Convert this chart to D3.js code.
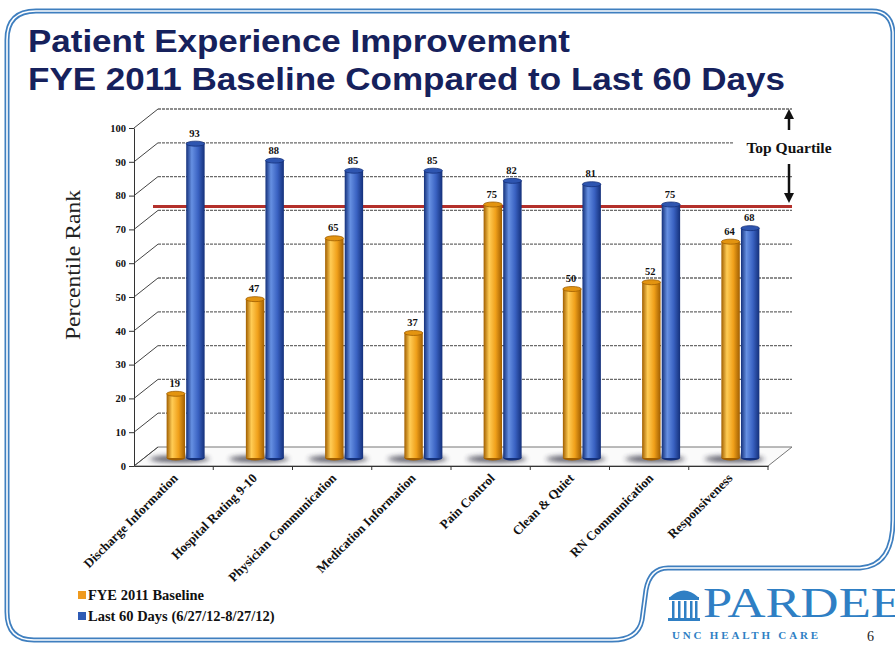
<!DOCTYPE html>
<html>
<head>
<meta charset="utf-8">
<script src="https://cdn.jsdelivr.net/npm/d3@7"></script>
<style>
  body { margin: 0; background: #fff; }
  svg { display: block; }
</style>
</head>
<body>
<div id="chart"></div>
<script>
//chart data
var categories = ["Discharge Information", "Hospital Rating 9-10", "Physician Communication",
  "Medication Information", "Pain Control", "Clean & Quiet", "RN Communication", "Responsiveness"];
var baseline = [19, 47, 65, 37, 75, 50, 52, 64];
var last60 = [93, 88, 85, 85, 82, 81, 75, 68];
var seriesNames = ["FYE 2011 Baseline", "Last 60 Days (6/27/12-8/27/12)"];
var yTicks = [0, 10, 20, 30, 40, 50, 60, 70, 80, 90, 100];
var topQuartile = 75;

var svgWidth = 895;
var svgHeight = 646;

//3d depth offsets (back wall and the plane the bars stand in)
var back = {dx: 24, dy: -19};
var mid = {dx: 12, dy: -8};

var plot = {left: 134, right: 768, top: 128, bottom: 466};

var svg = d3.select("#chart")
  .append("svg")
  .attr("width", svgWidth)
  .attr("height", svgHeight);

var defs = svg.append("defs");

//frame round the slide (double blue line)
var framePath = "M 7 40 Q 7 11 36 11 L 872 11 Q 891 11 893 32 L 893 520 " +
  "Q 893 566 860 568 L 668 568 Q 650 568 646 590 L 642 620 Q 638 640 612 640 " +
  "L 34 640 Q 7 640 7 612 Z";
svg.append("path").attr("d", framePath)
  .attr("fill", "none").attr("stroke", "#3f7fbf").attr("stroke-width", 5);
svg.append("path").attr("d", framePath)
  .attr("fill", "none").attr("stroke", "#fff").attr("stroke-width", 1.6);

//title
svg.append("text")
  .attr("x", 28).attr("y", 52)
  .attr("textLength", 542).attr("lengthAdjust", "spacingAndGlyphs")
  .style("font-family", "Liberation Sans, Arial, sans-serif")
  .style("font-weight", "bold").style("font-size", "31px")
  .attr("fill", "#16215c")
  .text("Patient Experience Improvement");
svg.append("text")
  .attr("x", 28).attr("y", 90)
  .attr("textLength", 757).attr("lengthAdjust", "spacingAndGlyphs")
  .style("font-family", "Liberation Sans, Arial, sans-serif")
  .style("font-weight", "bold").style("font-size", "31px")
  .attr("fill", "#16215c")
  .text("FYE 2011 Baseline Compared to Last 60 Days");

//scales
var yScale = d3.scaleLinear().domain([0, 100]).range([plot.bottom, plot.top]);
var xScale = d3.scaleBand().domain(categories).range([plot.left, plot.right]);
var xSeries = d3.scaleBand().domain([0, 1]).range([-19, 19]).paddingInner(0.06);

var chartGroup = svg.append("g");
var serif = "Liberation Serif, Times New Roman, serif";

//floor
chartGroup.append("path")
  .attr("d", `M ${plot.left} ${plot.bottom} L ${plot.right} ${plot.bottom} L ${plot.right + back.dx} ${plot.bottom + back.dy} L ${plot.left + back.dx} ${plot.bottom + back.dy} Z`)
  .attr("fill", "#fafafa").attr("stroke", "#777").attr("stroke-width", 1);

//gridlines on back wall + side wall diagonals
yTicks.forEach(function(t) {
  if (t > 0) {
    chartGroup.append("line")
      .attr("x1", plot.left + back.dx).attr("x2", plot.right + back.dx)
      .attr("y1", yScale(t) + back.dy).attr("y2", yScale(t) + back.dy)
      .attr("stroke", "#6a6a6a").attr("stroke-width", 1.3)
      .attr("stroke-dasharray", "3,1");
  }
  chartGroup.append("line")
    .attr("x1", plot.left).attr("x2", plot.left + back.dx)
    .attr("y1", yScale(t)).attr("y2", yScale(t) + back.dy)
    .attr("stroke", "#444").attr("stroke-width", 1);
});

//y axis
var leftAxis = d3.axisLeft(yScale).tickValues(yTicks).tickSize(5).tickSizeOuter(0);
var yAxisG = chartGroup.append("g")
  .attr("transform", `translate(${plot.left}, 0)`)
  .call(leftAxis);
yAxisG.select(".domain").attr("stroke", "#333");
yAxisG.selectAll(".tick line").attr("stroke", "#333");
yAxisG.selectAll("text")
  .style("font-family", serif).style("font-weight", "bold").style("font-size", "10.5px")
  .attr("fill", "#111");

//x axis (front edge of floor)
var bottomAxis = d3.axisBottom(xScale).tickSize(0).tickFormat("");
var xAxisG = chartGroup.append("g")
  .attr("transform", `translate(0, ${plot.bottom})`)
  .call(bottomAxis);
xAxisG.select(".domain").attr("stroke", "#333");
categories.forEach(function(c) {
  var bx = xScale(c) + xScale.bandwidth();
  chartGroup.append("line")
    .attr("x1", bx).attr("x2", bx)
    .attr("y1", plot.bottom).attr("y2", plot.bottom + 4)
    .attr("stroke", "#333");
});

//category labels
chartGroup.selectAll(".xlabel")
  .data(categories)
  .enter()
  .append("text")
  .attr("class", "xlabel")
  .attr("transform", d => `translate(${xScale(d) + xScale.bandwidth() / 2 + 5}, ${plot.bottom + 13}) rotate(-45)`)
  .attr("text-anchor", "end")
  .style("font-family", serif).style("font-weight", "bold").style("font-size", "13px")
  .attr("fill", "#111")
  .text(d => d);

//cylinder gradients
var palette = [
  {id: "gOrange", dark: "#a05e00", main: "#f0a01a", light: "#ffcc55", top: "#e39410"},
  {id: "gBlue", dark: "#14307a", main: "#3a62c2", light: "#6690e2", top: "#2e55b0"}
];
palette.forEach(function(p) {
  var g = defs.append("linearGradient").attr("id", p.id)
    .attr("x1", "0%").attr("x2", "100%").attr("y1", "0%").attr("y2", "0%");
  g.append("stop").attr("offset", "0%").attr("stop-color", p.dark);
  g.append("stop").attr("offset", "30%").attr("stop-color", p.light);
  g.append("stop").attr("offset", "65%").attr("stop-color", p.main);
  g.append("stop").attr("offset", "100%").attr("stop-color", p.dark);
});

var blur = defs.append("filter").attr("id", "shadowBlur")
  .attr("x", "-50%").attr("y", "-200%").attr("width", "200%").attr("height", "500%");
blur.append("feGaussianBlur").attr("stdDeviation", 2.5);

//shadows on the floor
chartGroup.selectAll(".shadow")
  .data(categories)
  .enter()
  .append("ellipse")
  .attr("cx", d => xScale(d) + xScale.bandwidth() / 2 + mid.dx - 6)
  .attr("cy", plot.bottom + mid.dy + 1)
  .attr("rx", 30).attr("ry", 3.5)
  .attr("fill", "#2a2a3a").attr("opacity", 0.75)
  .attr("filter", "url(#shadowBlur)");

//red top quartile line
chartGroup.append("line")
  .attr("x1", plot.left + 19).attr("x2", plot.right + back.dx)
  .attr("y1", yScale(topQuartile) + mid.dy + 2).attr("y2", yScale(topQuartile) + mid.dy + 2)
  .attr("stroke", "#b3302b").attr("stroke-width", 3);

//bars
var seriesData = [baseline, last60];
seriesData.forEach(function(values, si) {
  var p = palette[si];
  var bw = xSeries.bandwidth();
  var bars = chartGroup.selectAll(".bar" + si)
    .data(values.map((v, i) => ({cat: categories[i], value: v})))
    .enter()
    .append("g")
    .attr("class", "bar" + si);

  var bx = d => xScale(d.cat) + xScale.bandwidth() / 2 + xSeries(si) + mid.dx;
  var by = d => yScale(d.value) + mid.dy;
  var base = plot.bottom + mid.dy;

  bars.append("ellipse")
    .attr("cx", d => bx(d) + bw / 2).attr("cy", base)
    .attr("rx", bw / 2).attr("ry", 2.5)
    .attr("fill", p.dark);
  bars.append("rect")
    .attr("x", d => bx(d)).attr("y", d => by(d))
    .attr("width", bw).attr("height", d => base - by(d))
    .attr("fill", `url(#${p.id})`);
  bars.append("ellipse")
    .attr("cx", d => bx(d) + bw / 2).attr("cy", d => by(d))
    .attr("rx", bw / 2).attr("ry", 2.5)
    .attr("fill", p.top).attr("stroke", p.dark).attr("stroke-width", 0.8);

  //value labels
  bars.append("text")
    .attr("x", d => bx(d) + bw / 2 - 1)
    .attr("y", d => by(d) - 7)
    .attr("text-anchor", "middle")
    .style("font-family", serif).style("font-weight", "bold").style("font-size", "10.5px")
    .attr("fill", "#111")
    .text(d => d.value);
});

//top quartile marker
var qx = plot.right + back.dx - 3;
svg.append("rect")
  .attr("x", 734).attr("y", 136).attr("width", 110).attr("height", 24)
  .attr("fill", "#fff");
svg.append("text")
  .attr("x", qx).attr("y", 153)
  .attr("text-anchor", "middle")
  .style("font-family", serif).style("font-weight", "bold").style("font-size", "15.5px")
  .attr("fill", "#111")
  .text("Top Quartile");
defs.append("marker").attr("id", "arrowHead")
  .attr("viewBox", "0 0 10 10").attr("refX", 5).attr("refY", 5)
  .attr("markerWidth", 4).attr("markerHeight", 4).attr("orient", "auto-start-reverse")
  .append("path").attr("d", "M 0 0 L 10 5 L 0 10 Z").attr("fill", "#111");
svg.append("line")
  .attr("x1", qx).attr("x2", qx).attr("y1", 130).attr("y2", 114)
  .attr("stroke", "#111").attr("stroke-width", 2.5).attr("marker-end", "url(#arrowHead)");
svg.append("line")
  .attr("x1", qx).attr("x2", qx).attr("y1", 164).attr("y2", 198)
  .attr("stroke", "#111").attr("stroke-width", 2.5).attr("marker-end", "url(#arrowHead)");

//y axis title
svg.append("text")
  .attr("transform", "translate(80, 265) rotate(-90)")
  .attr("text-anchor", "middle")
  .attr("textLength", 150).attr("lengthAdjust", "spacingAndGlyphs")
  .style("font-family", serif).style("font-size", "21px")
  .attr("fill", "#222")
  .text("Percentile Rank");

//legend
var legendColors = ["#ef9a1e", "#2f5bb5"];
var legend = svg.selectAll(".legend")
  .data(seriesNames)
  .enter()
  .append("g")
  .attr("class", "legend")
  .attr("transform", (d, i) => `translate(78, ${591 + i * 21})`);
legend.append("rect")
  .attr("width", 8).attr("height", 8)
  .attr("fill", (d, i) => legendColors[i]);
legend.append("text")
  .attr("x", 10).attr("y", 8.5)
  .style("font-family", serif).style("font-weight", "bold").style("font-size", "14.5px")
  .attr("fill", "#111")
  .text(d => d);

//logo
var logoBlue = "#2f7fc4";
var logo = svg.append("g").attr("fill", logoBlue);
logo.append("path").attr("d", "M 670 597 Q 684 584 698 597 Z");
logo.append("rect").attr("x", 669).attr("y", 597).attr("width", 30).attr("height", 3);
[672, 678, 684, 690, 695].forEach(function(cx) {
  logo.append("rect").attr("x", cx).attr("y", 601).attr("width", 2.5).attr("height", 17);
});
logo.append("rect").attr("x", 668).attr("y", 618).attr("width", 32).attr("height", 3);
svg.append("text")
  .attr("x", 703).attr("y", 617)
  .attr("textLength", 200).attr("lengthAdjust", "spacingAndGlyphs")
  .style("font-family", serif).style("font-size", "42px")
  .attr("fill", logoBlue)
  .text("PARDEE");
svg.append("text")
  .attr("x", 672).attr("y", 639)
  .attr("textLength", 146).attr("lengthAdjust", "spacing")
  .style("font-family", serif).style("font-weight", "bold").style("font-size", "11px")
  .attr("fill", logoBlue)
  .text("UNC HEALTH CARE");
svg.append("text")
  .attr("x", 867).attr("y", 641)
  .style("font-family", serif).style("font-size", "14px")
  .attr("fill", "#222")
  .text("6");
</script>
</body>
</html>
